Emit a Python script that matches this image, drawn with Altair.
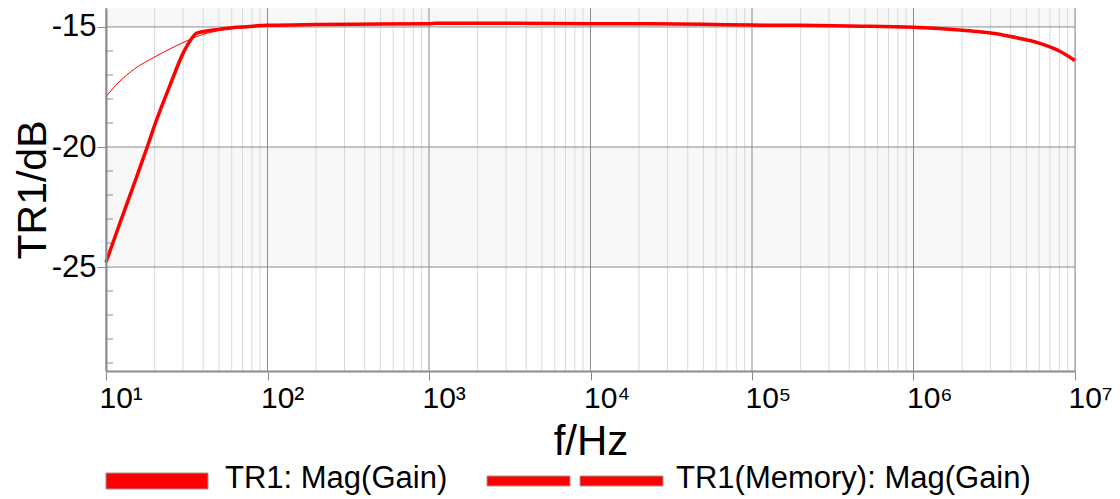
import altair as alt
import pandas as pd

# ---------------- data ----------------
series_names = ["TR1: Mag(Gain)", "TR1(Memory): Mag(Gain)"]

main_freq = [10, 12, 15, 18, 20, 25, 30, 33, 36.5, 50, 70, 100, 200, 500, 1000, 1100,
             3000, 11000, 20000, 50000, 100000, 200000, 400000, 1e6, 2.1e6, 3.4e6,
             4e6, 6e6, 8e6, 1e7]
main_db = [-24.8, -23.3, -21.5, -20.0, -19.1, -17.4, -16.1, -15.6, -15.26, -15.1, -15.0,
           -14.93, -14.9, -14.88, -14.87, -14.85, -14.85, -14.87, -14.87, -14.89, -14.92,
           -14.93, -14.96, -15.01, -15.15, -15.3, -15.4, -15.67, -16.0, -16.4]

mem_freq = [10, 12, 15, 20, 26, 30, 36.5, 50, 70, 100, 200, 500, 1000, 1100, 3000, 11000,
            20000, 50000, 100000, 200000, 400000, 1e6, 2.1e6, 3.4e6, 4e6, 6e6, 8e6, 1e7]
mem_db = [-17.9, -17.3, -16.75, -16.25, -15.85, -15.65, -15.4, -15.15, -15.03, -14.95,
          -14.9, -14.88, -14.87, -14.85, -14.85, -14.87, -14.87, -14.89, -14.92, -14.93,
          -14.96, -15.01, -15.15, -15.3, -15.4, -15.67, -16.0, -16.4]

x_ticks = [10, 100, 1000, 10000, 100000, 1000000, 10000000]
x_tick_labels = ["10¹", "10²", "10³", "10⁴", "10⁵", "10⁶", "10⁷"]
x_minor = [m * d for d in [10, 100, 1000, 10000, 100000, 1000000] for m in range(2, 10)]
y_major = [-15, -20, -25]
y_minor = [-16, -17, -18, -19, -21, -22, -23, -24, -26, -27, -28, -29]
band_lo = [-15, -25]
band_hi = [-14.21, -20]
y_domain = [-29.33, -14.21]
x_domain = [10, 10000000]

# ---------------- chart ----------------
FONT = "Liberation Sans"
GRID = "#8c8c8c"
MINOR = "#d9d9d9"
W, H = 969, 363

xs = alt.Scale(type="log", domain=x_domain, nice=False)
ys = alt.Scale(domain=y_domain, nice=False, zero=False)

label_expr = "[" + ",".join("'%s'" % s for s in x_tick_labels) + "][round(log(datum.value)/LN10)-1]"

xaxis = alt.Axis(values=x_ticks, labelExpr=label_expr, grid=False, tickSize=9,
                 tickColor=GRID, domainColor=GRID, domainWidth=2, labelFont=FONT,
                 labelFontSize=30, labelColor="black", labelAlign="left", labelOffset=-7,
                 labelFlush=False, labelOverlap=False, labelBound=False, labelPadding=3,
                 title="f/Hz", titleFont=FONT, titleFontSize=42, titleFontWeight="normal",
                 titleColor="black", titlePadding=8, zindex=1)
yaxis = alt.Axis(values=y_major, labelExpr="'' + datum.value", grid=False, tickSize=9,
                 tickColor=GRID, domainColor=GRID, domainWidth=2, labelFont=FONT,
                 labelFontSize=31, labelColor="black", labelPadding=1, title="TR1/dB",
                 titleFont=FONT, titleFontSize=41, titleFontWeight="normal",
                 titleColor="black", titleX=-61, titleY=H / 2, titleAngle=270,
                 titleAlign="center", titleBaseline="alphabetic", zindex=1)

bands = alt.Chart(pd.DataFrame({"lo": band_lo, "hi": band_hi})).mark_rect(
    color="#f7f7f7").encode(
    x=alt.value(0), x2=alt.value(W),
    y=alt.Y("lo:Q", scale=ys, axis=yaxis), y2="hi:Q")

minor_grid = alt.Chart(pd.DataFrame({"f": x_minor})).mark_rule(
    color=MINOR, strokeWidth=1).encode(x=alt.X("f:Q", scale=xs, axis=xaxis))

major_vgrid = alt.Chart(pd.DataFrame({"f": x_ticks})).mark_rule(
    color=GRID, strokeWidth=1).encode(x=alt.X("f:Q", scale=xs))

major_hgrid = alt.Chart(pd.DataFrame({"v": y_major})).mark_rule(
    color=GRID, strokeWidth=1).encode(y=alt.Y("v:Q", scale=ys))

minor_ticks = alt.Chart(pd.DataFrame({"v": y_minor})).mark_rule(
    color=GRID, strokeWidth=1).encode(
    y=alt.Y("v:Q", scale=ys), x=alt.value(0), x2=alt.value(7))

mem_line = alt.Chart(pd.DataFrame({"f": mem_freq, "db": mem_db})).mark_line(
    color="#ff0000", strokeWidth=1, interpolate="monotone").encode(
    x=alt.X("f:Q", scale=xs), y=alt.Y("db:Q", scale=ys))

main_line = alt.Chart(pd.DataFrame({"f": main_freq, "db": main_db})).mark_line(
    color="#ff0000", strokeWidth=3.5, interpolate="monotone").encode(
    x=alt.X("f:Q", scale=xs), y=alt.Y("db:Q", scale=ys))

# ---- legend (drawn below the plot) ----
leg1 = pd.DataFrame({"label": [series_names[0]]})
leg2 = pd.DataFrame({"label": [series_names[1]]})

leg1_sym = alt.Chart(leg1).mark_rect(color="#ff0000", stroke="#999999", strokeWidth=1).encode(
    x=alt.value(0), x2=alt.value(102), y=alt.value(465), y2=alt.value(481))
leg1_txt = alt.Chart(leg1).mark_text(align="left", baseline="alphabetic", font=FONT,
                                     fontSize=31, color="black").encode(
    text="label:N", x=alt.value(119), y=alt.value(480))
leg2_symA = alt.Chart(leg2).mark_rect(color="#ff0000", stroke="#999999", strokeWidth=1).encode(
    x=alt.value(381), x2=alt.value(464), y=alt.value(468), y2=alt.value(478))
leg2_symB = alt.Chart(leg2).mark_rect(color="#ff0000", stroke="#999999", strokeWidth=1).encode(
    x=alt.value(474), x2=alt.value(557), y=alt.value(468), y2=alt.value(478))
leg2_txt = alt.Chart(leg2).mark_text(align="left", baseline="alphabetic", font=FONT,
                                     fontSize=31, color="black").encode(
    text="label:N", x=alt.value(570), y=alt.value(480))

chart = alt.layer(
    bands, minor_grid, major_vgrid, major_hgrid, minor_ticks, mem_line, main_line,
    leg1_sym, leg1_txt, leg2_symA, leg2_symB, leg2_txt
).properties(
    width=W, height=H,
    autosize=alt.AutoSizeParams(type="none"),
    padding={"left": 98, "top": 0, "right": 37, "bottom": 126},
).configure_view(stroke=GRID, strokeWidth=1).configure(background="white")

chart.save("out.html", embed_options={"renderer": "svg", "actions": False})
